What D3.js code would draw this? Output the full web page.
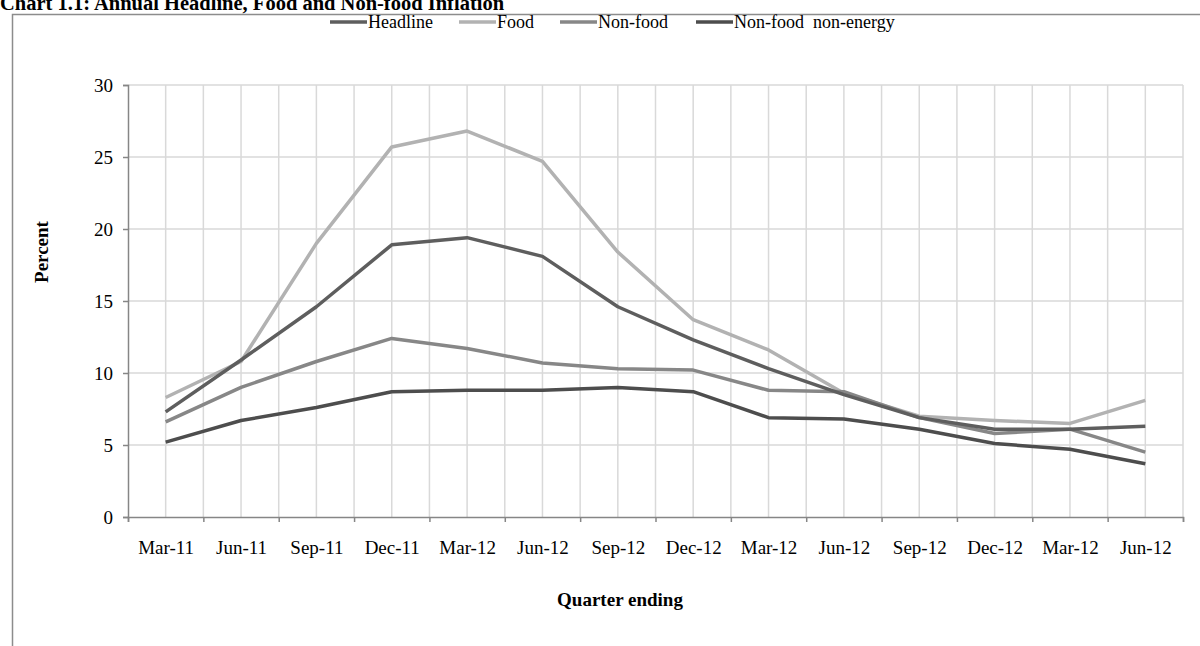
<!DOCTYPE html>
<html>
<head>
<meta charset="utf-8">
<script src="https://cdn.jsdelivr.net/npm/d3@7"></script>
<style>
  html, body { margin: 0; padding: 0; background: #fff; }
  svg { display: block; font-family: 'Liberation Serif', 'Times New Roman', serif; }
</style>
</head>
<body>
<div id="chart"></div>
<script>
// quarter labels (the source repeats Mar-12 / Jun-12 at the end)
const quarters = ['Mar-11', 'Jun-11', 'Sep-11', 'Dec-11', 'Mar-12', 'Jun-12', 'Sep-12',
  'Dec-12', 'Mar-12', 'Jun-12', 'Sep-12', 'Dec-12', 'Mar-12', 'Jun-12'];

const headline = [7.3, 10.9, 14.6, 18.9, 19.4, 18.1, 14.6, 12.3, 10.3, 8.5, 6.9, 6.1, 6.1, 6.3];
const food = [8.3, 10.8, 19.0, 25.7, 26.8, 24.7, 18.4, 13.7, 11.6, 8.6, 7.0, 6.7, 6.5, 8.1];
const nonFood = [6.6, 9.0, 10.8, 12.4, 11.7, 10.7, 10.3, 10.2, 8.8, 8.7, 6.9, 5.8, 6.1, 4.5];
const nonFoodNonEnergy = [5.2, 6.7, 7.6, 8.7, 8.8, 8.8, 9.0, 8.7, 6.9, 6.8, 6.1, 5.1, 4.7, 3.7];

const seriesNames = ['Headline', 'Food', 'Non-food', 'Non-food  non-energy'];
const yTicks = [0, 5, 10, 15, 20, 25, 30];

const width = 1200, height = 646;
const margin = { top: 85, right: 17, bottom: 129, left: 128 };
const colors = ['#5e5e5e', '#b2b2b2', '#878787', '#4d4d4d'];

const svg = d3.select('#chart').append('svg')
  .attr('width', width)
  .attr('height', height);

// outer frame (only top and left edges are visible in the crop)
svg.append('path')
  .attr('d', 'M12.5,' + height + 'V14.5H' + width)
  .attr('fill', 'none')
  .attr('stroke', '#8c8c8c')
  .attr('stroke-width', 1.5);

svg.append('text')
  .attr('x', 0)
  .attr('y', 10)
  .attr('font-size', 20.5)
  .attr('font-weight', 'bold')
  .attr('fill', '#000')
  .text('Chart 1.1: Annual Headline, Food and Non-food Inflation');

const adjWidth = width - margin.left - margin.right;
const adjHeight = height - margin.top - margin.bottom;

const g = svg.append('g')
  .attr('transform', 'translate(' + margin.left + ',' + margin.top + ')');

const x = d3.scaleLinear().domain([-0.5, quarters.length - 0.5]).range([0, adjWidth]);
const y = d3.scaleLinear().domain([0, 30]).range([adjHeight, 0]);

//Gridlines: horizontal at each tick, vertical at every half category
g.append('g').selectAll('line.hgrid')
  .data(yTicks.slice(1))
  .enter().append('line')
  .attr('x1', 0).attr('x2', adjWidth)
  .attr('y1', d => y(d)).attr('y2', d => y(d))
  .attr('stroke', '#d9d9d9').attr('stroke-width', 1.5);

g.append('g').selectAll('line.vgrid')
  .data(d3.range(0, quarters.length * 2).map(k => k / 2))
  .enter().append('line')
  .attr('x1', d => x(d)).attr('x2', d => x(d))
  .attr('y1', 0).attr('y2', adjHeight)
  .attr('stroke', '#d9d9d9').attr('stroke-width', 1.5);

//Axes
const yAxis = g.append('g')
  .call(d3.axisLeft(y).tickValues(yTicks).tickSize(5).tickPadding(10));

const xTicks = g.append('g')
  .attr('transform', 'translate(0,' + adjHeight + ')')
  .call(d3.axisBottom(x).tickValues(d3.range(-0.5, quarters.length, 1)).tickSize(5).tickFormat(''));

const xLabels = g.append('g')
  .attr('transform', 'translate(0,' + adjHeight + ')')
  .call(d3.axisBottom(x).tickValues(d3.range(0, quarters.length)).tickSize(0).tickPadding(24)
    .tickFormat(i => quarters[i]));
xLabels.select('.domain').remove();

[yAxis, xTicks].forEach(a => {
  a.select('.domain').attr('stroke', '#868686').attr('stroke-width', 1.5);
  a.selectAll('.tick line').attr('stroke', '#868686').attr('stroke-width', 1.5);
});

g.selectAll('.tick text')
  .attr('font-family', 'Liberation Serif')
  .attr('font-size', 19)
  .attr('fill', '#000');

//Axis titles
svg.append('text')
  .attr('transform', 'translate(48,252) rotate(-90)')
  .attr('text-anchor', 'middle')
  .attr('font-size', 19)
  .attr('font-weight', 'bold')
  .text('Percent');

svg.append('text')
  .attr('x', 620)
  .attr('y', 606)
  .attr('text-anchor', 'middle')
  .attr('font-size', 19)
  .attr('font-weight', 'bold')
  .text('Quarter ending');

//Lines
const allSeries = [headline, food, nonFood, nonFoodNonEnergy];
const line = d3.line()
  .x((d, i) => x(i))
  .y(d => y(d));

// draw order: food underneath, then non-food, headline and non-food non-energy
[1, 2, 0, 3].forEach(k => {
  g.append('path')
    .datum(allSeries[k])
    .attr('fill', 'none')
    .attr('stroke', colors[k])
    .attr('stroke-width', 3.5)
    .attr('stroke-linejoin', 'round')
    .attr('d', line);
});

//Legend
const legendX = [330, 459, 560, 696];
const legend = svg.append('g').attr('transform', 'translate(0,22)');
seriesNames.forEach((name, k) => {
  legend.append('line')
    .attr('x1', legendX[k]).attr('x2', legendX[k] + 37)
    .attr('y1', 0).attr('y2', 0)
    .attr('stroke', colors[k])
    .attr('stroke-width', 3.5);
  legend.append('text')
    .attr('x', legendX[k] + 38)
    .attr('y', 6)
    .attr('font-size', 18)
    .attr('xml:space', 'preserve')
    .style('white-space', 'pre')
    .text(name);
});
</script>
</body>
</html>
